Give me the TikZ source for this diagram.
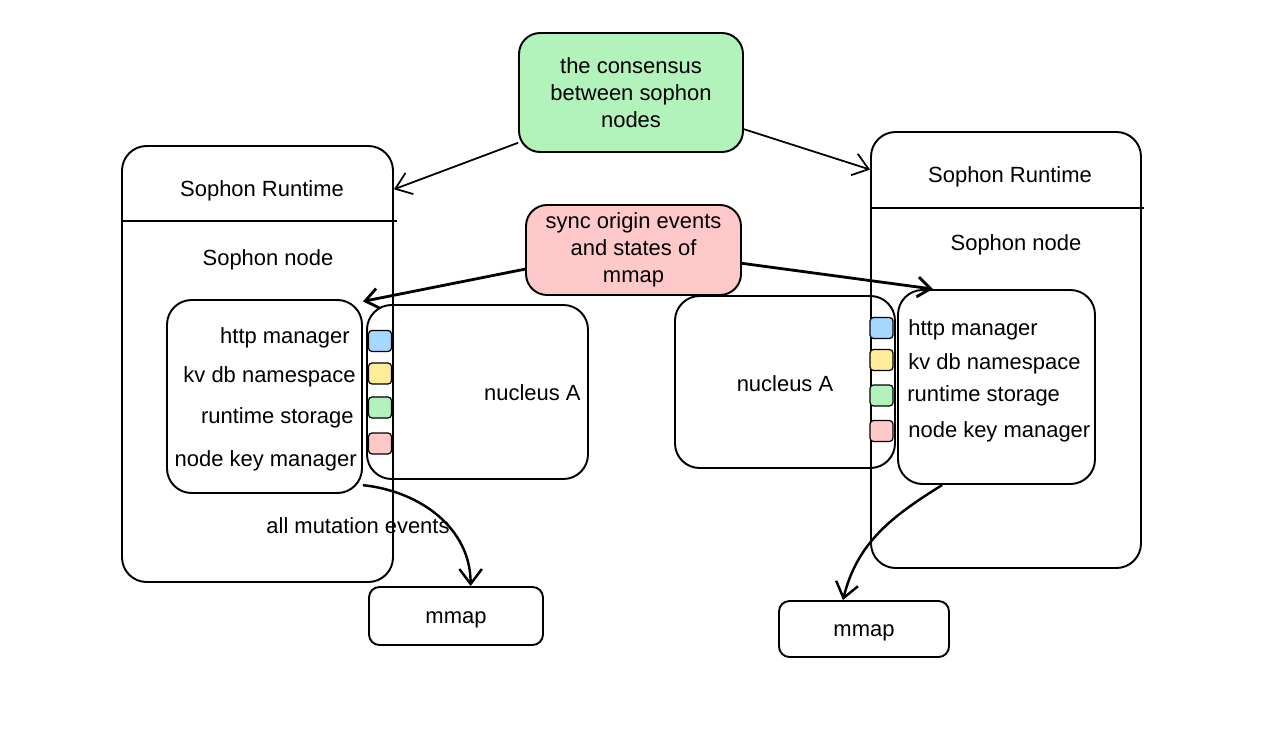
\documentclass[tikz,border=0pt]{standalone}
\usepackage{fontspec}
\setmainfont{Liberation Sans}
\usetikzlibrary{arrows.meta, calc}

\definecolor{consensusgreen}{HTML}{B2F2BB}
\definecolor{syncred}{HTML}{FFC9C9}
\definecolor{slotblue}{HTML}{A5D8FF}
\definecolor{slotyellow}{HTML}{FFEC99}
\definecolor{slotgreen}{HTML}{B2F2BB}
\definecolor{slotred}{HTML}{FFC9C9}

\begin{document}
\begin{tikzpicture}[box/.style={draw,line width=1.1pt,rounded corners=14pt,inner sep=0pt},
                    small box/.style={draw,line width=1.1pt,rounded corners=6pt,inner sep=0pt},
                    label/.style={font=\fontsize{12.5}{15.4}\selectfont,inner sep=0pt,text height=12pt,text depth=3pt},
                    note/.style={box,rounded corners=12pt,align=center,font=\fontsize{12.5}{15.4}\selectfont},
                    slot/.style={draw,line width=0.7pt,rounded corners=2pt,minimum width=4.6mm,minimum height=4.2mm,inner sep=0pt},
                    flow arrow/.style={-{Straight Barb[length=3mm,width=4.5mm]}, line width=1pt},
                    sync arrow/.style={-{Straight Barb[length=2.6mm,width=4mm]}, line width=1.6pt},
                   ]
  \useasboundingbox (0,0) rectangle (25.6,-14.66);

  % left side
  \node[box,minimum width=5.42cm,minimum height=8.72cm] (runtime-a) at (5.15,-7.28) {};
  \draw[line width=1.1pt] ($(runtime-a.north west)+(0,-1.52)$) -- ($(runtime-a.north east)+(0.06,-1.52)$);
  \node[label] (runtime-a-title) at (5.24,-3.78) {Sophon Runtime};
  \node[label] (node-a-title) at (5.36,-5.16) {Sophon node};

  \node[box,minimum width=3.9cm,minimum height=3.86cm] (node-a) at (5.29,-7.93) {};
  \node[label,anchor=east] (http-a) at (7.0,-6.72) {http manager};
  \node[label,anchor=east] (kvdb-a) at (7.12,-7.5) {kv db namespace};
  \node[label,anchor=east] (storage-a) at (7.08,-8.32) {runtime storage};
  \node[label,anchor=east] (key-a) at (7.14,-9.18) {node key manager};

  \node[box,minimum width=4.42cm,minimum height=3.48cm] (nucleus-a) at (9.55,-7.84) {};
  \node[label,anchor=east] (nucleus-a-title) at (11.62,-7.86) {nucleus A};
  \foreach \col/\y in {slotblue/-6.82, slotyellow/-7.47, slotgreen/-8.15, slotred/-8.87}
    \node[slot,fill=\col] (slot-a-\col) at (7.6,\y) {};

  \node[small box,minimum width=3.48cm,minimum height=1.16cm] (mmap-a) at (9.12,-12.32) {};
  \node[label] (mmap-a-title) at (9.12,-12.32) {mmap};
  \node[label] (mutation) at (7.16,-10.52) {all mutation events};

  % right side
  \node[box,minimum width=5.4cm,minimum height=8.72cm] (runtime-b) at (20.12,-7.0) {};
  \draw[line width=1.1pt] ($(runtime-b.north west)+(0,-1.54)$) -- ($(runtime-b.north east)+(0.04,-1.54)$);
  \node[label] (runtime-b-title) at (20.2,-3.5) {Sophon Runtime};
  \node[label] (node-b-title) at (20.32,-4.86) {Sophon node};

  \node[box,minimum width=4.4cm,minimum height=3.44cm] (nucleus-b) at (15.7,-7.64) {};
  \node[label] (nucleus-b-title) at (15.7,-7.68) {nucleus A};
  \foreach \col/\y in {slotblue/-6.56, slotyellow/-7.2, slotgreen/-7.91, slotred/-8.62}
    \node[slot,fill=\col] (slot-b-\col) at (17.63,\y) {};

  \node[box,minimum width=3.94cm,minimum height=3.88cm] (node-b) at (19.93,-7.74) {};
  \node[label,anchor=west] (http-b) at (18.16,-6.56) {http manager};
  \node[label,anchor=west] (kvdb-b) at (18.16,-7.24) {kv db namespace};
  \node[label,anchor=west] (storage-b) at (18.14,-7.88) {runtime storage};
  \node[label,anchor=west] (key-b) at (18.16,-8.6) {node key manager};

  \node[small box,minimum width=3.4cm,minimum height=1.12cm] (mmap-b) at (17.28,-12.58) {};
  \node[label] (mmap-b-title) at (17.28,-12.58) {mmap};

  % middle notes
  \node[note,fill=consensusgreen,minimum width=4.48cm,minimum height=2.38cm] (consensus) at (12.62,-1.85)
    {the consensus\\between sophon\\nodes};
  \node[note,fill=syncred,minimum width=4.3cm,minimum height=1.8cm] (sync) at (12.67,-5.0)
    {sync origin events\\and states of\\mmap};

  \draw[flow arrow] (consensus.204) -- (runtime-a.52);
  \draw[flow arrow] (consensus.-18) -- (runtime-b.127);
  \draw[sync arrow] (sync.190) -- (node-a.44);
  \draw[sync arrow] (sync.-7) -- (node-b.123);

  \draw[flow arrow,line width=1.4pt] (node-a.-42) to[out=-6,in=90] (mmap-a.64);
  \draw[flow arrow,line width=1.4pt] (node-b.241) to[out=-148,in=76] (mmap-b.126);
\end{tikzpicture}
\end{document}
